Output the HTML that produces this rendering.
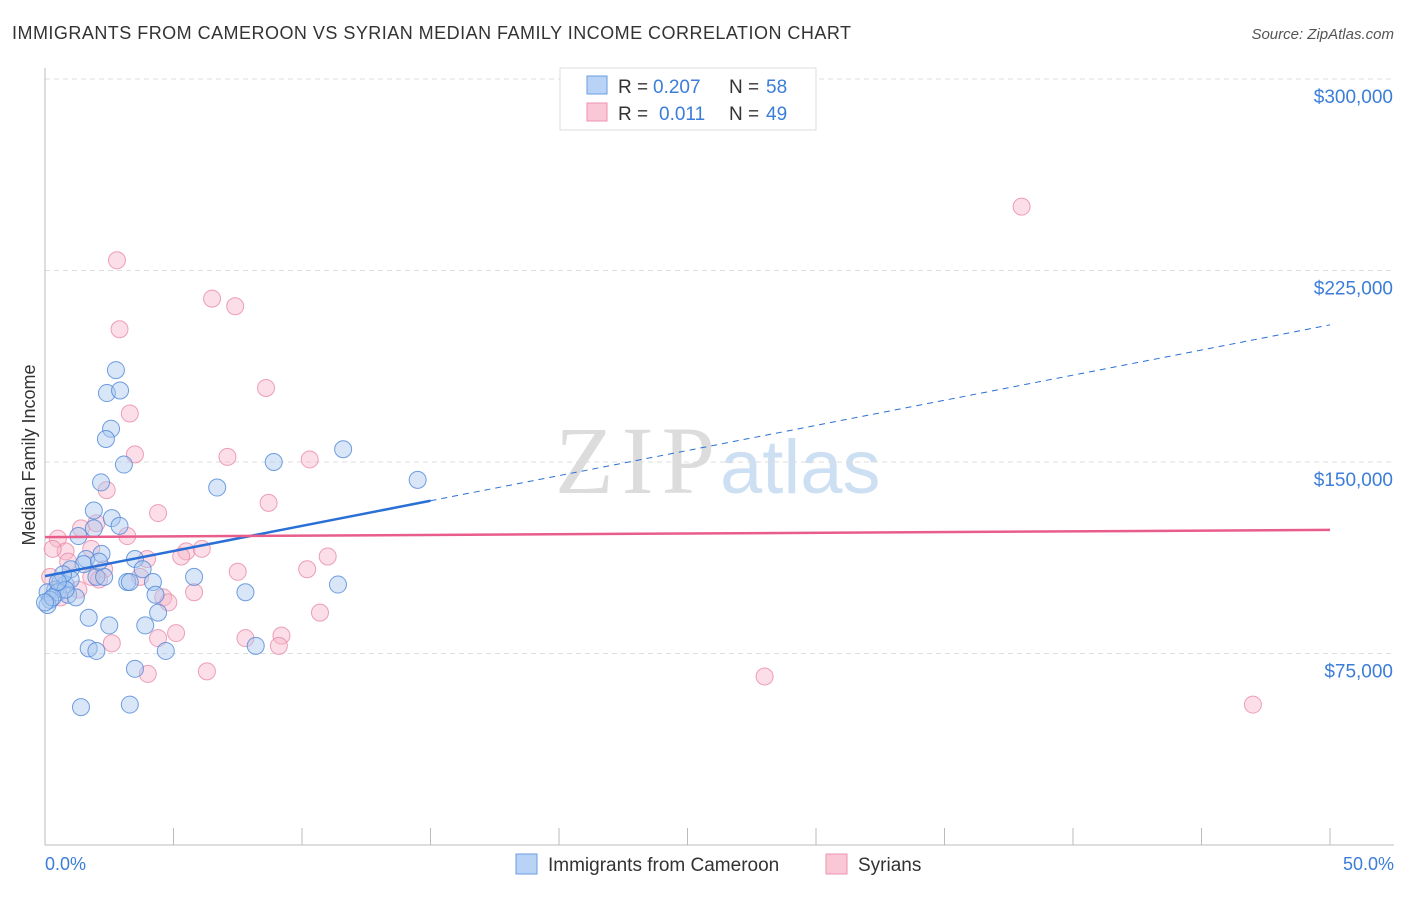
<!DOCTYPE html>
<html><head><meta charset="utf-8"><style>
body{margin:0;background:#fff;font-family:"Liberation Sans",sans-serif;}
</style></head><body>
<svg width="1406" height="892" xmlns="http://www.w3.org/2000/svg">
<text x="12" y="39" font-size="18" fill="#333" textLength="839">IMMIGRANTS FROM CAMEROON VS SYRIAN MEDIAN FAMILY INCOME CORRELATION CHART</text>
<text x="1394" y="39" font-size="15" fill="#555" font-style="italic" text-anchor="end">Source: ZipAtlas.com</text>
<text x="555" y="493" font-size="96" fill="#dcdcdc" font-family="Liberation Serif" textLength="160">ZIP</text>
<text x="720" y="493" font-size="76" fill="#cddff2">atlas</text>
<g id="grid"></g>
<line x1="45" y1="68" x2="45" y2="845" stroke="#bbb"/>
<line x1="45" y1="845" x2="1394" y2="845" stroke="#bbb"/>
<text x="35" y="455" font-size="18" fill="#333" text-anchor="middle" transform="rotate(-90 35 455)">Median Family Income</text>
<text x="45" y="870" font-size="18" fill="#3b7dd8">0.0%</text>
<text x="1394" y="870" font-size="18" fill="#3b7dd8" text-anchor="end">50.0%</text>
<g id="pts"></g>
<g id="trends"></g>
<g>
<rect x="560" y="68" width="256" height="62" fill="#fff" stroke="#ddd"/>
<rect x="587" y="76" width="20" height="18" fill="#b8d3f5" stroke="#6a9de0"/>
<rect x="587" y="103" width="20" height="18" fill="#f9c7d6" stroke="#ee93ae"/>
<text y="93" font-size="19" fill="#333"><tspan x="618">R =</tspan><tspan x="653" fill="#3b7dd8">0.207</tspan><tspan x="729">N =</tspan><tspan x="766" fill="#3b7dd8">58</tspan></text>
<text y="120" font-size="19" fill="#333"><tspan x="618">R =</tspan><tspan x="659" fill="#3b7dd8">0.011</tspan><tspan x="729">N =</tspan><tspan x="766" fill="#3b7dd8">49</tspan></text>
</g>
<g>
<rect x="516" y="854" width="21" height="20" fill="#b8d3f5" stroke="#6a9de0"/>
<text x="548" y="871" font-size="19" fill="#333">Immigrants from Cameroon</text>
<rect x="826" y="854" width="21" height="20" fill="#f9c7d6" stroke="#ee93ae"/>
<text x="858" y="871" font-size="19" fill="#333">Syrians</text>
</g>
</svg>
<script>
const yTicks=[75000,150000,225000,300000];
const yTickLabels=["$75,000","$150,000","$225,000","$300,000"];
const xTicks=[0,5,10,15,20,25,30,35,40,45,50];
const camX=[2.76,2.41,2.92,2.57,2.37,3.07,2.18,1.9,2.6,1.9,1.3,2.2,1.6,3.5,1.5,3.8,1.0,2.0,3.2,4.2,5.8,3.3,0.6,0.8,0.4,0.1,0.5,0.9,1.2,0.2,0.1,4.3,7.8,1.7,4.4,2.5,3.9,1.7,2.0,4.7,3.5,1.4,3.3,6.7,8.9,11.6,14.5,11.4,8.2,1.0,0.7,2.3,0.8,0.3,0.5,2.1,2.9,0.0];
const camY=[186,177,178,163,159,149,142,131,128,124,121,114,112,112,110,108,108,105,103,103,105,103,103,102,100,99,99,98,97,96,94,98,99,89,91,86,86,77,76,76,69,54,55,140,150,155,143,102,78,104,106,105,100,97,103,111,125,95];
const syrX=[2.8,2.9,6.5,7.4,38.0,3.3,3.5,8.6,2.4,7.1,10.3,4.4,8.7,1.4,0.5,3.2,1.8,0.8,0.3,3.97,5.5,5.3,6.1,11.0,0.9,2.3,7.5,10.2,1.8,3.7,2.1,5.8,4.6,4.8,10.7,2.6,4.4,5.1,7.8,9.2,9.1,4.0,6.3,28.0,47.0,0.6,1.3,0.2,2.0];
const syrY=[229,202,214,211,250,169,153,179,139,152,151,130,134,124,120,121,116,115,116,112,115,113,116,113,111,108,107,108,105,105,104,99,97,95,91,79,81,83,81,82,78,67,68,66,55,97,100,105,126];
const camTrend=[105.3,203.7], syrTrend=[120.6,123.4];
const NS="http://www.w3.org/2000/svg";
const X=p=>45+p*25.7, Y=k=>845-k*1000/75000*191.5;
const grid=document.getElementById('grid');
yTicks.forEach((t,i)=>{
 const l=document.createElementNS(NS,'line');
 l.setAttribute('x1',45);l.setAttribute('x2',1394);l.setAttribute('y1',Y(t/1000));l.setAttribute('y2',Y(t/1000));
 l.setAttribute('stroke','#ddd');l.setAttribute('stroke-dasharray','5,4');
 
 
 grid.appendChild(l);
 const tx=document.createElementNS(NS,'text');
 tx.setAttribute('x',1393);tx.setAttribute('y',Y(t/1000)+24);tx.setAttribute('text-anchor','end');
 tx.setAttribute('font-size','19');tx.setAttribute('fill','#3b7dd8');tx.textContent=yTickLabels[i];
 
 
 grid.appendChild(tx);
});
xTicks.forEach(t=>{
 const l=document.createElementNS(NS,'line');
 l.setAttribute('x1',X(t));l.setAttribute('x2',X(t));l.setAttribute('y1',828);l.setAttribute('y2',845);
 l.setAttribute('stroke','#bbb');
 
 
 grid.appendChild(l);
});
const pts=document.getElementById('pts');
function dots(xs,ys,fill,stroke,name){
 xs.forEach((x,i)=>{
  const c=document.createElementNS(NS,'circle');
  c.setAttribute('cx',X(x));c.setAttribute('cy',Y(ys[i]));c.setAttribute('r',8.5);
  c.setAttribute('fill',fill);c.setAttribute('fill-opacity','0.45');c.setAttribute('stroke',stroke);c.setAttribute('stroke-opacity','0.8');
  
  
  pts.appendChild(c);
 });
}
dots(syrX,syrY,'#f7b6c9','#ea8aa8','syrian-point');
dots(camX,camY,'#a9c8f0','#4f87d8','cameroon-point');
const tr=document.getElementById('trends');
function line(x1,y1,x2,y2,col,w,dash,name){
 const l=document.createElementNS(NS,'line');
 l.setAttribute('x1',X(x1));l.setAttribute('y1',Y(y1));l.setAttribute('x2',X(x2));l.setAttribute('y2',Y(y2));
 l.setAttribute('stroke',col);l.setAttribute('stroke-width',w);if(dash)l.setAttribute('stroke-dasharray',dash);
 
 
 tr.appendChild(l);
}
const cy=x=>camTrend[0]+(camTrend[1]-camTrend[0])*x/50;
line(0,cy(0),15,cy(15),'#2a6fd6',2.5,null,'cameroon-trend-solid');
line(15,cy(15),50,cy(50),'#2a6fd6',1,'6,5','cameroon-trend-dashed');
line(0,syrTrend[0],50,syrTrend[1],'#e85d8a',2.5,null,'syrian-trend');
</script>
</body></html>
